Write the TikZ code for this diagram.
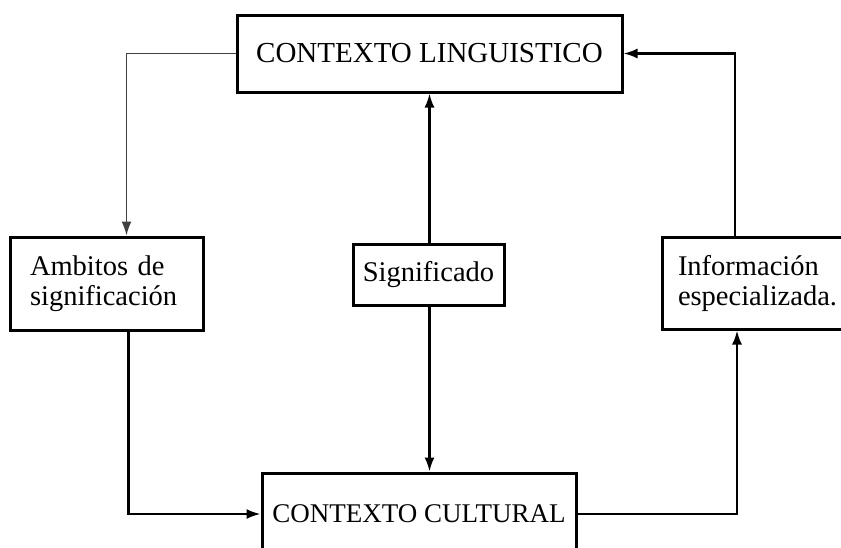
\documentclass[tikz,border=0pt]{standalone}
\usepackage{fontspec}
\setmainfont{Liberation Serif}
\usetikzlibrary{arrows.meta}

\begin{document}
\begin{tikzpicture}[x=1pt, y=-1pt,
   box/.style={draw, line width=3pt, inner sep=0pt, font=\fontsize{28.5}{30}\selectfont},
   link/.style={line width=2.2pt, -{Latex[length=14pt, width=10pt]}}]
   \useasboundingbox (0,0) rectangle (841,547);

   \node [box, font=\fontsize{29}{32}\selectfont, minimum width=385, minimum height=77] (ling) at (429.5,53.5) {CONTEXTO LINGUISTICO};
   \node [box, font=\fontsize{27}{30}\selectfont, minimum width=314, minimum height=82] (cult) at (419,514) {CONTEXTO CULTURAL};
   \node [box, minimum width=193, minimum height=93, align=left, text width=153] (amb) at (106.5,283.5) {Ambitos de\\significación};
   \node [box, minimum width=151, minimum height=61] (sig) at (428.5,274.5) {Significado};
   \node [box, minimum width=190, minimum height=92, align=left, text width=158] (info) at (757,283) {Información\\especializada.};

   \draw [link, line width=1.5pt, draw=black!75] (ling.west) -| ([xshift=20]amb.north);
   \draw [link] ([xshift=22]amb.south) |- (cult.west);
   \draw [link] (cult.east) -| ([xshift=-20]info.south);
   \draw [link] ([xshift=-22]info.north) |- (ling.east);
   \draw [link] ([xshift=1]sig.north) -- ([xshift=1]sig.north |- ling.south);
   \draw [link] ([xshift=1]sig.south) -- ([xshift=1]sig.south |- cult.north);
\end{tikzpicture}
\end{document}
